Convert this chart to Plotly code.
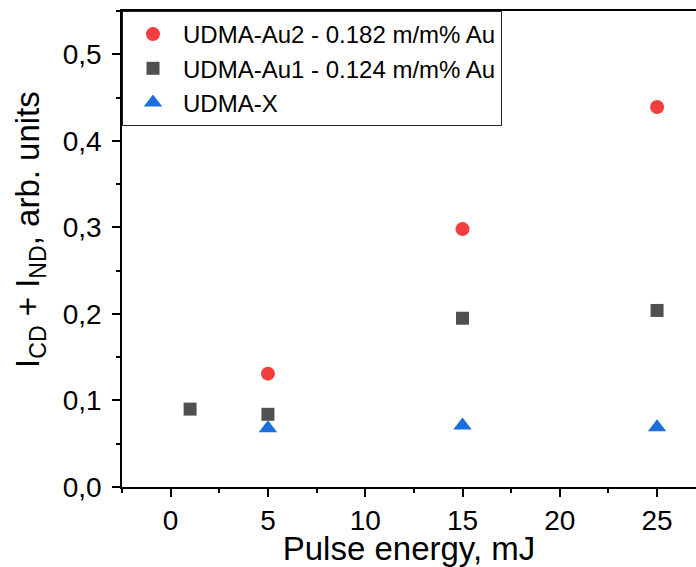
import plotly.graph_objects as go

# Data
au2_x = [5, 15, 25]
au2_y = [0.131, 0.298, 0.439]

au1_x = [1, 5, 15, 25]
au1_y = [0.090, 0.084, 0.195, 0.204]

x_x = [5, 15, 25]
x_y = [0.068, 0.071, 0.069]

names = ["UDMA-Au2 - 0.182 m/m% Au", "UDMA-Au1 - 0.124 m/m% Au", "UDMA-X"]

FONT = "Liberation Sans, Arial, sans-serif"

fig = go.Figure()
fig.add_trace(go.Scatter(x=au2_x, y=au2_y, mode="markers", name=names[0],
                         marker=dict(symbol="circle", size=14, color="#F23E3E")))
fig.add_trace(go.Scatter(x=au1_x, y=au1_y, mode="markers", name=names[1],
                         marker=dict(symbol="square", size=13, color="#505050")))
fig.add_trace(go.Scatter(x=x_x, y=x_y, mode="markers", name=names[2],
                         marker=dict(symbol="triangle-up", size=16, color="#1C6EDD")))

fig.update_layout(
    width=696, height=567,
    margin=dict(l=122, r=0, t=11, b=80),
    paper_bgcolor="white", plot_bgcolor="white",
    separators=",.",
    font=dict(family=FONT, color="black", size=28),
    showlegend=True,
    legend=dict(x=0, y=1, xanchor="left", yanchor="top",
                bgcolor="white", bordercolor="#222", borderwidth=1,
                font=dict(size=24, family=FONT, color="black"),
                itemwidth=50, tracegroupgap=0),
    xaxis=dict(range=[-2.5, 27], dtick=5, tick0=0, showgrid=False, zeroline=False,
               showline=True, linecolor="black", linewidth=1.5, mirror=True,
               ticks="outside", ticklen=8, tickwidth=1.5, tickcolor="black",
               minor=dict(dtick=2.5, tick0=0, ticks="outside", ticklen=4,
                          tickwidth=1.5, tickcolor="black", showgrid=False),
               tickfont=dict(size=28, family=FONT),
               title=dict(text="Pulse energy, mJ", font=dict(size=33, family=FONT), standoff=0)),
    yaxis=dict(range=[0, 0.55], dtick=0.1, tick0=0, tickformat=".1f", showgrid=False,
               zeroline=False, showline=True, linecolor="black", linewidth=1.5, mirror=False,
               ticks="outside", ticklen=8, tickwidth=1.5, tickcolor="black",
               ticklabelstandoff=5,
               minor=dict(dtick=0.05, tick0=0, ticks="outside", ticklen=4,
                          tickwidth=1.5, tickcolor="black", showgrid=False),
               tickfont=dict(size=28, family=FONT)),
    annotations=[dict(text="I<sub>CD</sub> + I<sub>ND</sub>, arb. units",
                      xref="paper", yref="paper", x=0, y=0.54, xshift=-92,
                      xanchor="center", yanchor="middle", textangle=-90, showarrow=False,
                      font=dict(size=33, family=FONT, color="black"))],
)

fig.write_html("out.html")
